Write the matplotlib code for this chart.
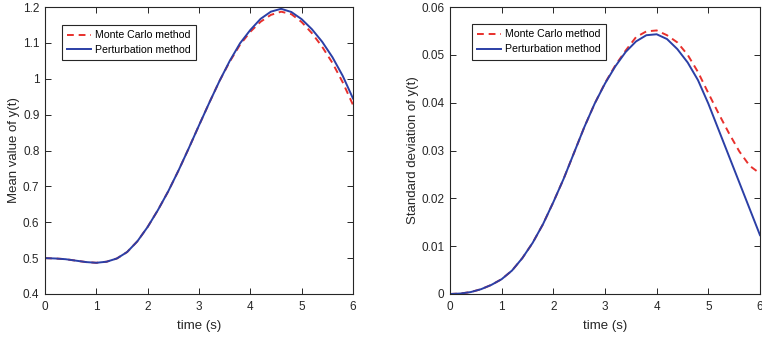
import matplotlib
matplotlib.use('Agg')
import matplotlib.pyplot as plt
from matplotlib.ticker import FuncFormatter
import numpy as np

plt.rcParams['font.family'] = ['Liberation Sans', 'DejaVu Sans']

# time grid (s), 0.2 s step
t = [0.0, 0.2, 0.4, 0.6, 0.8, 1.0, 1.2, 1.4, 1.6, 1.8, 2.0, 2.2, 2.4, 2.6,
     2.8, 3.0, 3.2, 3.4, 3.6, 3.8, 4.0, 4.2, 4.4, 4.6, 4.8, 5.0, 5.2, 5.4,
     5.6, 5.8, 6.0]

# mean value of y(t)
mean_mc = [0.500, 0.499, 0.497, 0.493, 0.489, 0.487, 0.490, 0.499, 0.517,
           0.547, 0.587, 0.634, 0.686, 0.744, 0.806, 0.870, 0.933, 0.994,
           1.048, 1.095, 1.131, 1.159, 1.178, 1.187, 1.180, 1.158, 1.127,
           1.089, 1.044, 0.990, 0.927]
mean_pert = [0.500, 0.499, 0.497, 0.493, 0.489, 0.487, 0.490, 0.499, 0.517,
             0.547, 0.587, 0.634, 0.686, 0.744, 0.806, 0.870, 0.933, 0.994,
             1.050, 1.099, 1.136, 1.167, 1.187, 1.195, 1.186, 1.166, 1.138,
             1.103, 1.060, 1.008, 0.945]

# standard deviation of y(t)
std_mc = [0.0, 0.0001, 0.0004, 0.0010, 0.0019, 0.0031, 0.0049, 0.0075,
          0.0107, 0.0146, 0.0192, 0.0241, 0.0295, 0.0349, 0.0398, 0.0441,
          0.0478, 0.0509, 0.0537, 0.0549, 0.0551, 0.0541, 0.0526, 0.0500,
          0.0464, 0.0420, 0.0377, 0.0336, 0.0298, 0.0268, 0.0252]
std_pert = [0.0, 0.0001, 0.0004, 0.0010, 0.0019, 0.0031, 0.0049, 0.0075,
            0.0107, 0.0146, 0.0192, 0.0241, 0.0295, 0.0349, 0.0398, 0.0440,
            0.0476, 0.0506, 0.0528, 0.0541, 0.0543, 0.0533, 0.0512, 0.0484,
            0.0447, 0.0398, 0.0343, 0.0288, 0.0233, 0.0178, 0.0123]

red = '#e8302c'
blue = '#2b3fa6'
ink = '#262626'

fig = plt.figure(figsize=(7.62, 3.4), dpi=100)
ax1 = fig.add_axes([45/762, 46/340, 308/762, 287/340])
ax2 = fig.add_axes([450/762, 46/340, 310/762, 287/340])

fmt = FuncFormatter(lambda v, p: '%g' % round(v, 4))


def draw(ax, mc, pt, yticks, ylabel, legpos):
    ax.plot(t, mc, color=red, lw=1.4, ls=(0, (3.5, 2.5)), label='Monte Carlo method')
    ax.plot(t, pt, color=blue, lw=1.4, label='Perturbation method')
    ax.set_xlim(0, 6)
    ax.set_ylim(yticks[0], yticks[-1])
    ax.set_xticks(range(7))
    ax.set_yticks(yticks)
    ax.yaxis.set_major_formatter(fmt)
    ax.tick_params(direction='in', top=True, right=True, labelsize=8.5,
                   length=4, width=0.7, colors=ink)
    ax.tick_params(axis='x', pad=5)
    ax.tick_params(axis='y', pad=4)
    for s in ax.spines.values():
        s.set_linewidth(0.8)
        s.set_color(ink)
    ax.set_xlabel('time (s)', fontsize=9.5, color=ink, labelpad=5)
    ax.set_ylabel(ylabel, fontsize=9.5, color=ink, labelpad=2)
    leg = ax.legend(loc='upper left', bbox_to_anchor=legpos, fontsize=7.6,
                    fancybox=False, edgecolor=ink, framealpha=1,
                    handlelength=2.3, borderpad=0.5, labelspacing=0.45,
                    handletextpad=0.35, borderaxespad=0)
    leg.get_frame().set_linewidth(0.8)


draw(ax1, mean_mc, mean_pert, np.round(np.arange(0.4, 1.21, 0.1), 2),
     'Mean value of y(t)', (0.055, 0.937))
draw(ax2, std_mc, std_pert, np.round(np.arange(0, 0.061, 0.01), 3),
     'Standard deviation of y(t)', (0.07, 0.94))

fig.savefig('out.png', dpi=100)
